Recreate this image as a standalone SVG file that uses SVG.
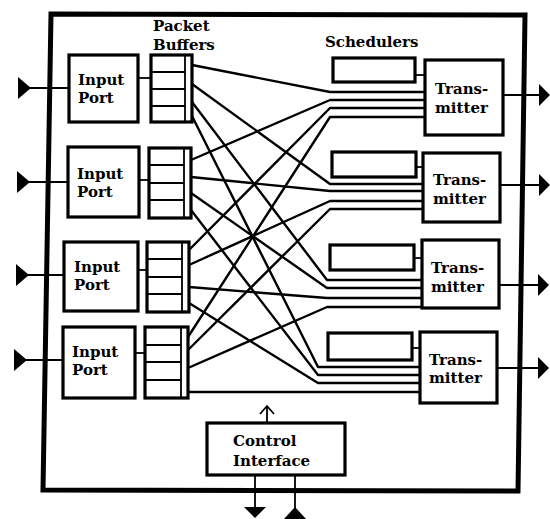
<svg xmlns="http://www.w3.org/2000/svg" width="550" height="519" viewBox="0 0 550 519">
<style>
.box{fill:#fff;stroke:#000;stroke-width:3.2}
.frame{fill:none;stroke:#000;stroke-width:5}
.ln{fill:none;stroke:#000;stroke-width:2.4;stroke-linejoin:round}
.thin{fill:none;stroke:#000;stroke-width:1.8}
.tri{fill:#000}
text{font-family:"DejaVu Serif","Liberation Serif",serif;font-weight:bold;font-size:15px;fill:#000}
</style>
<rect width="550" height="519" fill="#fff"/>
<polygon class="frame" points="51,14 525,15 518,491 43,490"/>

<g id="labels">
<text x="153" y="31">Packet</text>
<text x="153" y="50">Buffers</text>
<text x="325" y="47">Schedulers</text>
</g>

<g id="connectors">
<polyline class="ln" points="192,65 330,92 425,92"/>
<polyline class="ln" points="192,84 330,184 423,184"/>
<polyline class="ln" points="192,102 327,280 422,280"/>
<polyline class="ln" points="192,116 318,367 420,367"/>
<polyline class="ln" points="191,160 330,100 425,100"/>
<polyline class="ln" points="191,177 330,191 423,191"/>
<polyline class="ln" points="191,193 327,288 422,288"/>
<polyline class="ln" points="191,210 318,375 420,375"/>
<polyline class="ln" points="189,250 330,108 425,108"/>
<polyline class="ln" points="189,265 330,201 423,201"/>
<polyline class="ln" points="189,287 327,298 422,298"/>
<polyline class="ln" points="189,303 318,383 420,383"/>
<polyline class="ln" points="188,337 330,117 425,117"/>
<polyline class="ln" points="188,350 330,209 423,209"/>
<polyline class="ln" points="188,368 327,307 422,307"/>
<polyline class="ln" points="188,392 318,392 420,392"/>
<!-- input arrows -->
<line class="thin" x1="26" y1="88" x2="69" y2="88"/>
<polygon class="tri" points="18,77 31,88 18,99"/>
<line class="thin" x1="26" y1="182" x2="68" y2="182"/>
<polygon class="tri" points="17,171 30,182 17,193"/>
<line class="thin" x1="25" y1="275" x2="64" y2="275"/>
<polygon class="tri" points="16,264 29,275 16,286"/>
<line class="thin" x1="24" y1="360" x2="63" y2="360"/>
<polygon class="tri" points="14,349 27,360 14,371"/>
<!-- port to buffer -->
<line class="thin" x1="138" y1="78" x2="151" y2="78"/>
<line class="thin" x1="139" y1="180" x2="149" y2="180"/>
<line class="thin" x1="138" y1="270" x2="147" y2="270"/>
<line class="thin" x1="135" y1="353" x2="145" y2="353"/>
<!-- scheduler to transmitter -->
<line class="thin" x1="415" y1="75" x2="425" y2="75"/>
<line class="thin" x1="416" y1="167" x2="423" y2="167"/>
<line class="thin" x1="414" y1="258" x2="422" y2="258"/>
<line class="thin" x1="412" y1="348" x2="420" y2="348"/>
<!-- output arrows -->
<line class="thin" x1="503" y1="95" x2="541" y2="95"/>
<polygon class="tri" points="539,84 550,95 539,106"/>
<line class="thin" x1="500" y1="185" x2="541" y2="185"/>
<polygon class="tri" points="539,174 550,185 539,196"/>
<line class="thin" x1="499" y1="285" x2="540" y2="285"/>
<polygon class="tri" points="538,274 549,285 538,296"/>
<line class="thin" x1="497" y1="368" x2="540" y2="368"/>
<polygon class="tri" points="538,357 549,368 538,379"/>
<!-- control arrows -->
<line class="thin" x1="267" y1="423" x2="267" y2="406"/>
<polyline class="thin" points="260,414 267,406 274,414"/>
<line class="thin" x1="255" y1="475" x2="255" y2="509"/>
<polygon class="tri" points="244,507 266,507 255,518"/>
<line class="thin" x1="295" y1="475" x2="295" y2="510"/>
<polygon class="tri" points="284,519 306,519 295,507"/>
</g>

<g id="port1"><rect class="box" x="69" y="55" width="69" height="67"/><text x="78" y="85">Input</text><text x="78" y="103">Port</text></g>
<g id="port2"><rect class="box" x="68" y="147" width="71" height="70"/><text x="77" y="179">Input</text><text x="77" y="197">Port</text></g>
<g id="port3"><rect class="box" x="64" y="242" width="74" height="69"/><text x="74" y="272">Input</text><text x="74" y="290">Port</text></g>
<g id="port4"><rect class="box" x="63" y="327" width="72" height="71"/><text x="72" y="357">Input</text><text x="72" y="375">Port</text></g>

<g id="buffer1"><rect class="box" x="151" y="55" width="41" height="67"/><path class="thin" d="M185,55V122M151,72H185M151,89H185M151,106H185"/></g>
<g id="buffer2"><rect class="box" x="149" y="148" width="42" height="70"/><path class="thin" d="M184,148V218M149,165H184M149,183H184M149,200H184"/></g>
<g id="buffer3"><rect class="box" x="147" y="242" width="42" height="70"/><path class="thin" d="M182,242V312M147,259H182M147,277H182M147,294H182"/></g>
<g id="buffer4"><rect class="box" x="145" y="327" width="43" height="71"/><path class="thin" d="M181,327V398M145,345H181M145,362H181M145,380H181"/></g>

<g id="sched1"><rect class="box" x="333" y="58" width="82" height="24"/></g>
<g id="sched2"><rect class="box" x="332" y="152" width="84" height="25"/></g>
<g id="sched3"><rect class="box" x="330" y="245" width="84" height="25"/></g>
<g id="sched4"><rect class="box" x="328" y="333" width="84" height="27"/></g>

<g id="tx1"><rect class="box" x="425" y="60" width="78" height="75"/><text x="435" y="94">Trans-</text><text x="435" y="113">mitter</text></g>
<g id="tx2"><rect class="box" x="423" y="153" width="77" height="69"/><text x="433" y="185">Trans-</text><text x="433" y="204">mitter</text></g>
<g id="tx3"><rect class="box" x="422" y="240" width="77" height="68"/><text x="431" y="273">Trans-</text><text x="431" y="292">mitter</text></g>
<g id="tx4"><rect class="box" x="420" y="332" width="77" height="71"/><text x="429" y="365">Trans-</text><text x="429" y="383">mitter</text></g>

<g id="control"><rect class="box" x="207" y="423" width="138" height="52"/><text x="233" y="446">Control</text><text x="233" y="466">Interface</text></g>
</svg>
